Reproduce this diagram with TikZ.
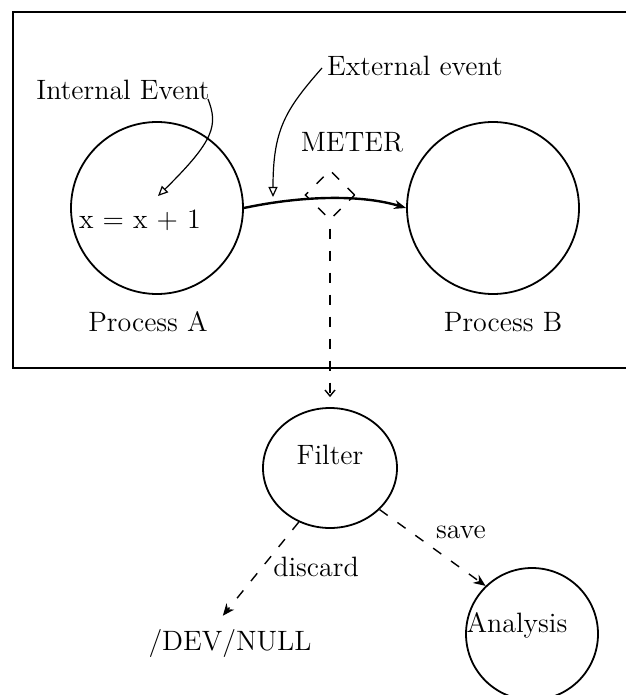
\documentclass[tikz,border=0pt]{standalone}
\usetikzlibrary{arrows.meta,shapes.geometric}
\begin{document}
\begin{tikzpicture}[x=0.5pt,y=-0.5pt,
  every node/.style={font=\fontsize{14}{16}\selectfont},
  txt/.style={inner sep=1pt},
  proc/.style={draw, circle, line width=0.9pt, minimum size=86pt, inner sep=0pt},
  small/.style={draw, ellipse, line width=0.9pt, minimum width=67pt, minimum height=60pt, inner sep=0pt},
  frame/.style={line width=1pt},
  evt/.style={line width=0.6pt, -{Triangle[open,length=5pt,width=4.5pt]}},
  mainarr/.style={line width=1.2pt, -{Stealth[length=6pt,width=4.5pt]}},
  dsh/.style={line width=0.7pt, dash pattern=on 5pt off 6pt},
  meterbox/.style={draw, diamond, dsh, minimum width=25pt, minimum height=25pt, inner sep=0pt}
]
\useasboundingbox (0,0) rectangle (626,695);
% frame
\draw[frame] (626,12) -- (13,12) -- (13,368) -- (626,368);
% processes
\node[proc] (A) at (157,208) {};
\node[proc] (B) at (493,208) {};
\node[txt] (pa) at (148,322) {Process A};
\node[txt] (pb) at (503,322) {Process B};
\node[txt] (xe) at (140,220) {x = x + 1};
% event labels
\node[txt] (ie) at (123,90) {Internal Event};
\node[txt] (ee) at (415,66) {External event};
\node[txt] (meter) at (352,142) {METER};
\node[meterbox] (m) at (330,195) {};
% event arrows
\coordinate (ie0) at (208,99);
\coordinate (itip) at (158,196);
\draw[evt] (ie0) .. controls (218,125) and (215,140) .. (itip);
\coordinate (ee0) at (322,68);
\coordinate (etip) at (273,197);
\draw[evt] (ee0) .. controls (285,110) and (273,130) .. (etip);
% main message
\draw[mainarr] (A.east) .. controls (300,196) and (360,194) .. (B.west);
% lower part
\node[small] (F) at (330,468) {};
\node[txt] (ft) at (330,455) {Filter};
\node[draw, circle, line width=0.9pt, minimum size=66pt, inner sep=0pt] (An) at (532,634) {};
\node[txt] (at) at (517,625) {Analysis};
\node[txt] (dn) at (230,643) {/DEV/NULL};
\node[txt] (dl) at (316,567) {discard};
\node[txt] (sl) at (461,532) {save};
% connectors
\draw[dsh, -{Straight Barb[length=3pt,width=5pt]}, shorten <=4pt, shorten >=5pt] (m.south) -- (F.north);
\draw[dsh, -{Stealth[length=6pt,width=5pt]}, shorten >=7pt] (F.240) -- ([xshift=-8pt]dn.north);
\draw[dsh, -{Stealth[length=6pt,width=5pt]}] (F.-40) -- (An.134);
\end{tikzpicture}
\end{document}
